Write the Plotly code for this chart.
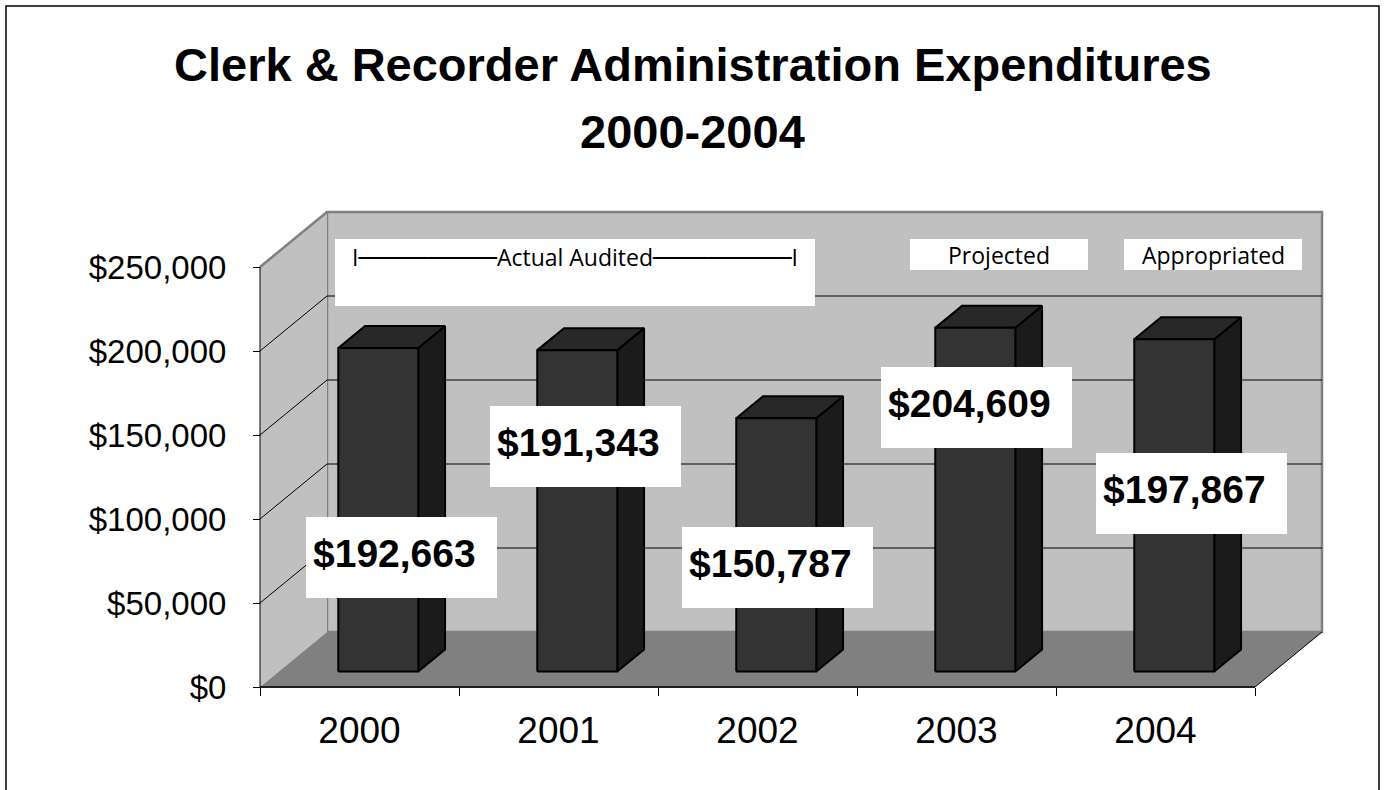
import plotly.graph_objects as go

# ---- data ----
years = ["2000", "2001", "2002", "2003", "2004"]
expenditures = [192663, 191343, 150787, 204609, 197867]
y_ticks = [0, 50000, 100000, 150000, 200000, 250000]
period_labels = ["Actual Audited", "Projected", "Appropriated"]
title_lines = ["Clerk & Recorder Administration Expenditures", "2000-2004"]

# ---- layout geometry (pixels) ----
W, H = 1384, 790
FRONT_LEFT, FRONT_BOTTOM = 260, 687      # origin of the front plane
CAT_PX = 199                              # pixels per category
Y_MAX = 250000
Y_PX = 420                                # pixels for 0..Y_MAX
DEPTH_DX, DEPTH_DY = 67, 55               # 3-D depth offset of back wall
PAD = 6                                   # room around the box so edges are not clipped
PLOT_L = FRONT_LEFT - PAD
PLOT_B = FRONT_BOTTOM + PAD
PLOT_R = FRONT_LEFT + 5 * CAT_PX + DEPTH_DX + PAD
PLOT_T = FRONT_BOTTOM - Y_PX - DEPTH_DY - PAD
PW, PH = PLOT_R - PLOT_L, PLOT_B - PLOT_T

UNIT_PER_PX = Y_MAX / Y_PX
x_min = -0.5 - PAD / CAT_PX
x_max = x_min + PW / CAT_PX
y_min = -PAD * UNIT_PER_PX
y_max = y_min + PH * UNIT_PER_PX

dxu = DEPTH_DX / CAT_PX          # depth offset in category units
dyu = DEPTH_DY * UNIT_PER_PX     # depth offset in value units

# bar geometry: width and depth position (fraction of full depth)
BAR_W = 80 / CAT_PX
F_FRONT, F_BACK = 0.28, 0.68

n = len(years)
X0, X1 = -0.5, n - 0.5

def px(xp):
    return (xp - PLOT_L) / PW

def py(yp):
    return (PLOT_B - yp) / PH

fig = go.Figure()

def poly(xs, ys, fill, line_color=None, line_width=0):
    fig.add_trace(go.Scatter(
        x=xs + [xs[0]], y=ys + [ys[0]], mode="lines", fill="toself",
        fillcolor=fill,
        line=dict(color=line_color or fill, width=line_width),
        hoverinfo="skip", showlegend=False))

def seg(xs, ys, color, width):
    fig.add_trace(go.Scatter(
        x=xs, y=ys, mode="lines", line=dict(color=color, width=width),
        hoverinfo="skip", showlegend=False))

WALL = "#c0c0c0"
FRAME = "#808080"
FLOOR = "#808080"

# back wall
poly([X0 + dxu, X1 + dxu, X1 + dxu, X0 + dxu],
     [dyu, dyu, Y_MAX + dyu, Y_MAX + dyu], WALL, FRAME, 2.5)
# left side wall
poly([X0, X0, X0 + dxu, X0 + dxu], [0, Y_MAX, Y_MAX + dyu, dyu], WALL)
seg([X0, X0 + dxu], [Y_MAX, Y_MAX + dyu], FRAME, 2.5)
# floor
poly([X0, X1, X1 + dxu, X0 + dxu], [0, 0, dyu, dyu], FLOOR)
seg([X1, X1 + dxu], [0, dyu], "#000000", 1)
seg([X0, X1], [0, 0], "#202020", 2)

# gridlines on back wall and side wall
for v in y_ticks[1:-1]:
    seg([X0 + dxu, X1 + dxu], [v + dyu, v + dyu], "#000000", 1)
    seg([X0, X0 + dxu], [v, v + dyu], "#000000", 1)

# value axis line
seg([X0, X0], [0, Y_MAX], "#000000", 1)

# 3-D bars
FRONT_C, SIDE_C, TOP_C = "#333333", "#1b1b1b", "#282828"
for i, v in enumerate(expenditures):
    xc = i + F_FRONT * dxu
    hw = BAR_W / 2
    yb = F_FRONT * dyu
    yt = yb + v
    ddx = (F_BACK - F_FRONT) * dxu
    ddy = (F_BACK - F_FRONT) * dyu
    poly([xc + hw, xc + hw + ddx, xc + hw + ddx, xc + hw],
         [yb, yb + ddy, yt + ddy, yt], SIDE_C, "#000000", 2)
    poly([xc - hw, xc + hw, xc + hw + ddx, xc - hw + ddx],
         [yt, yt, yt + ddy, yt + ddy], TOP_C, "#000000", 2)
    poly([xc - hw, xc + hw, xc + hw, xc - hw],
         [yb, yb, yt, yt], FRONT_C, "#000000", 2)

shapes = []
annotations = []

# outer frame of the chart
shapes.append(dict(type="rect", xref="paper", yref="paper",
                   x0=px(6), x1=px(1379), y0=py(6), y1=py(800),
                   line=dict(color="#000000", width=1.5), layer="above"))

# title
title_pos = [(693, 64, 47), (692, 131, 47)]
for txt, (tx, ty, fs) in zip(title_lines, title_pos):
    annotations.append(dict(
        text=f"<b>{txt}</b>", xref="paper", yref="paper", x=px(tx), y=py(ty),
        xanchor="center", yanchor="middle", showarrow=False,
        font=dict(family="Liberation Sans, Arial", size=fs, color="#000000")))

# value labels in white boxes
label_boxes = [(306, 517), (490, 406), (682, 527), (881, 367), (1096, 453)]
BOX_W, BOX_H = 191, 81
for v, (bx, by) in zip(expenditures, label_boxes):
    shapes.append(dict(type="rect", xref="paper", yref="paper",
                       x0=px(bx), x1=px(bx + BOX_W), y0=py(by), y1=py(by + BOX_H),
                       fillcolor="#ffffff", line=dict(width=0), layer="above"))
    annotations.append(dict(
        text=f"<b>${v:,.0f}</b>", xref="paper", yref="paper",
        x=px(bx + 5), y=py(by + 36), xanchor="left", yanchor="middle",
        showarrow=False,
        font=dict(family="Liberation Sans, Arial", size=39, color="#000000")))

# period labels along the top of the back wall
dash = "\u2500" * 10
period_text = [f"I{dash}{period_labels[0]}{dash}I", period_labels[1], period_labels[2]]
period_boxes = [(335, 239, 815, 306, 257), (910, 239, 1088, 270, 255),
                (1124, 239, 1302, 270, 255)]
for txt, (x0b, y0b, x1b, y1b, ty) in zip(period_text, period_boxes):
    shapes.append(dict(type="rect", xref="paper", yref="paper",
                       x0=px(x0b), x1=px(x1b), y0=py(y0b), y1=py(y1b),
                       fillcolor="#ffffff", line=dict(width=0), layer="above"))
    annotations.append(dict(
        text=txt, xref="paper", yref="paper", x=px((x0b + x1b) / 2), y=py(ty),
        xanchor="center", yanchor="middle", showarrow=False,
        font=dict(family="Open Sans, DejaVu Sans", size=23, color="#000000")))

fig.update_layout(
    width=W, height=H,
    margin=dict(l=PLOT_L, r=W - PLOT_R, t=PLOT_T, b=H - PLOT_B, pad=0),
    paper_bgcolor="#ffffff", plot_bgcolor="#ffffff",
    shapes=shapes, annotations=annotations, showlegend=False,
    xaxis=dict(
        range=[x_min, x_max], showgrid=False, zeroline=False, showline=False,
        tickvals=list(range(n)), ticktext=years, ticks="",
        anchor="free", position=PAD / PH,
        ticklabelstandoff=18,
        minor=dict(tickvals=[k - 0.5 for k in range(n + 1)], ticks="outside",
                   ticklen=8, tickcolor="#000000", tickwidth=1, showgrid=False),
        tickfont=dict(family="Liberation Sans, Arial", size=37, color="#000000"),
        fixedrange=True),
    yaxis=dict(
        range=[y_min, y_max], showgrid=False, zeroline=False, showline=False,
        tickvals=y_ticks, tickformat="$,.0f", ticks="outside", ticklen=7,
        tickcolor="#000000", tickwidth=1,
        anchor="free", position=PAD / PW,
        ticklabelstandoff=20,
        tickfont=dict(family="Liberation Sans, Arial", size=33, color="#000000"),
        fixedrange=True),
)

fig.write_html("out.html")
